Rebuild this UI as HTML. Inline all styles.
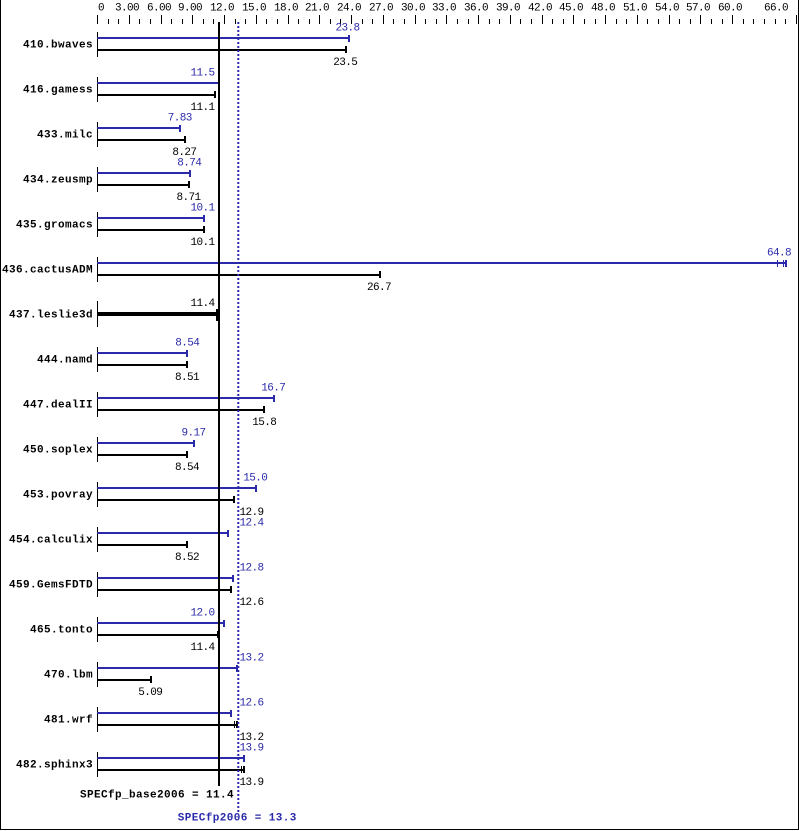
<!DOCTYPE html>
<html><head><meta charset="utf-8"><style>
html,body{margin:0;padding:0;background:#fff;}
svg{display:block;}
.v{font-family:"Liberation Mono","DejaVu Sans Mono",monospace;font-size:11px;letter-spacing:-0.6px;}
.n{font-family:"Liberation Mono","DejaVu Sans Mono",monospace;font-size:11px;font-weight:bold;letter-spacing:0.4px;}
.b{fill:#2a2aaa;}
.k{fill:#000;}
</style></head><body>
<svg width="799" height="831" viewBox="0 0 799 831" xmlns="http://www.w3.org/2000/svg">
<rect x="0" y="0" width="799" height="831" fill="#fff"/>
<!-- borders -->
<g shape-rendering="crispEdges" fill="#000">
<rect x="0" y="0" width="1" height="830"/>
<rect x="798" y="0" width="1" height="830"/>
<rect x="0" y="829" width="799" height="1"/>
</g>
<!-- ticks -->
<g shape-rendering="crispEdges" fill="#000">
<rect x="97" y="15" width="1" height="9"/><rect x="108" y="19" width="1" height="5"/><rect x="118" y="19" width="1" height="5"/>
<rect x="129" y="15" width="1" height="9"/><rect x="139" y="19" width="1" height="5"/><rect x="150" y="19" width="1" height="5"/>
<rect x="161" y="15" width="1" height="9"/><rect x="171" y="19" width="1" height="5"/><rect x="182" y="19" width="1" height="5"/>
<rect x="192" y="15" width="1" height="9"/><rect x="203" y="19" width="1" height="5"/><rect x="213" y="19" width="1" height="5"/>
<rect x="224" y="15" width="1" height="9"/><rect x="235" y="19" width="1" height="5"/><rect x="245" y="19" width="1" height="5"/>
<rect x="256" y="15" width="1" height="9"/><rect x="266" y="19" width="1" height="5"/><rect x="277" y="19" width="1" height="5"/>
<rect x="288" y="15" width="1" height="9"/><rect x="298" y="19" width="1" height="5"/><rect x="309" y="19" width="1" height="5"/>
<rect x="319" y="15" width="1" height="9"/><rect x="330" y="19" width="1" height="5"/><rect x="340" y="19" width="1" height="5"/>
<rect x="351" y="15" width="1" height="9"/><rect x="362" y="19" width="1" height="5"/><rect x="372" y="19" width="1" height="5"/>
<rect x="383" y="15" width="1" height="9"/><rect x="393" y="19" width="1" height="5"/><rect x="404" y="19" width="1" height="5"/>
<rect x="415" y="15" width="1" height="9"/><rect x="425" y="19" width="1" height="5"/><rect x="436" y="19" width="1" height="5"/>
<rect x="446" y="15" width="1" height="9"/><rect x="457" y="19" width="1" height="5"/><rect x="468" y="19" width="1" height="5"/>
<rect x="478" y="15" width="1" height="9"/><rect x="489" y="19" width="1" height="5"/><rect x="499" y="19" width="1" height="5"/>
<rect x="510" y="15" width="1" height="9"/><rect x="520" y="19" width="1" height="5"/><rect x="531" y="19" width="1" height="5"/>
<rect x="542" y="15" width="1" height="9"/><rect x="552" y="19" width="1" height="5"/><rect x="563" y="19" width="1" height="5"/>
<rect x="573" y="15" width="1" height="9"/><rect x="584" y="19" width="1" height="5"/><rect x="595" y="19" width="1" height="5"/>
<rect x="605" y="15" width="1" height="9"/><rect x="616" y="19" width="1" height="5"/><rect x="626" y="19" width="1" height="5"/>
<rect x="637" y="15" width="1" height="9"/><rect x="647" y="19" width="1" height="5"/><rect x="658" y="19" width="1" height="5"/>
<rect x="669" y="15" width="1" height="9"/><rect x="679" y="19" width="1" height="5"/><rect x="690" y="19" width="1" height="5"/>
<rect x="700" y="15" width="1" height="9"/><rect x="711" y="19" width="1" height="5"/><rect x="722" y="19" width="1" height="5"/>
<rect x="732" y="15" width="1" height="9"/><rect x="743" y="19" width="1" height="5"/><rect x="753" y="19" width="1" height="5"/>
<rect x="764" y="19" width="1" height="5"/><rect x="775" y="19" width="1" height="5"/><rect x="785" y="19" width="1" height="5"/>
<rect x="796" y="15" width="1" height="9"/>
</g>
<!-- axis labels -->
<g class="v k" text-anchor="middle">
<text x="101" y="10.7">0</text>
<text x="127" y="10.7">3.00</text>
<text x="159" y="10.7">6.00</text>
<text x="190" y="10.7">9.00</text>
<text x="222" y="10.7">12.0</text>
<text x="254" y="10.7">15.0</text>
<text x="286" y="10.7">18.0</text>
<text x="317" y="10.7">21.0</text>
<text x="349" y="10.7">24.0</text>
<text x="381" y="10.7">27.0</text>
<text x="413" y="10.7">30.0</text>
<text x="444" y="10.7">33.0</text>
<text x="476" y="10.7">36.0</text>
<text x="508" y="10.7">39.0</text>
<text x="540" y="10.7">42.0</text>
<text x="571" y="10.7">45.0</text>
<text x="603" y="10.7">48.0</text>
<text x="635" y="10.7">51.0</text>
<text x="667" y="10.7">54.0</text>
<text x="698" y="10.7">57.0</text>
<text x="730" y="10.7">60.0</text>
<text x="776" y="10.7">66.0</text>
</g>

<!-- row axis segments -->
<g shape-rendering="crispEdges" fill="#000">
<rect x="97" y="32" width="1" height="25"/>
<rect x="97" y="77" width="1" height="25"/>
<rect x="97" y="122" width="1" height="25"/>
<rect x="97" y="167" width="1" height="25"/>
<rect x="97" y="212" width="1" height="25"/>
<rect x="97" y="257" width="1" height="25"/>
<rect x="97" y="301" width="1" height="26"/>
<rect x="97" y="347" width="1" height="25"/>
<rect x="97" y="392" width="1" height="25"/>
<rect x="97" y="437" width="1" height="25"/>
<rect x="97" y="482" width="1" height="25"/>
<rect x="97" y="527" width="1" height="25"/>
<rect x="97" y="572" width="1" height="25"/>
<rect x="97" y="617" width="1" height="25"/>
<rect x="97" y="662" width="1" height="25"/>
<rect x="97" y="707" width="1" height="25"/>
<rect x="97" y="752" width="1" height="25"/>
</g>

<!-- blue (peak) bars -->
<g shape-rendering="crispEdges" fill="#2a2aaa">
<rect x="97" y="37" width="252" height="2"/><rect x="348" y="35" width="2" height="7"/>
<rect x="97" y="82" width="122" height="2"/><rect x="218" y="80" width="2" height="7"/>
<rect x="97" y="127" width="83" height="2"/><rect x="179" y="125" width="2" height="7"/>
<rect x="97" y="172" width="93" height="2"/><rect x="189" y="170" width="2" height="7"/>
<rect x="97" y="217" width="107" height="2"/><rect x="203" y="215" width="2" height="7"/>
<rect x="97" y="262" width="689" height="2"/><rect x="777" y="260" width="1" height="7"/><rect x="783" y="260" width="1" height="7"/><rect x="785" y="260" width="2" height="7"/>
<rect x="97" y="352" width="90" height="2"/><rect x="186" y="350" width="2" height="7"/>
<rect x="97" y="397" width="177" height="2"/><rect x="273" y="395" width="2" height="7"/>
<rect x="97" y="442" width="97" height="2"/><rect x="193" y="440" width="2" height="7"/>
<rect x="97" y="487" width="159" height="2"/><rect x="255" y="485" width="2" height="7"/>
<rect x="97" y="532" width="131" height="2"/><rect x="227" y="530" width="2" height="7"/>
<rect x="97" y="577" width="136" height="2"/><rect x="232" y="575" width="2" height="7"/>
<rect x="97" y="622" width="127" height="2"/><rect x="223" y="620" width="2" height="7"/>
<rect x="97" y="667" width="140" height="2"/><rect x="236" y="665" width="2" height="7"/>
<rect x="97" y="712" width="133" height="2"/><rect x="230" y="710" width="2" height="7"/>
<rect x="97" y="757" width="147" height="2"/><rect x="243" y="755" width="2" height="7"/>
</g>

<!-- black (base) bars -->
<g shape-rendering="crispEdges" fill="#000">
<rect x="97" y="49" width="249" height="2"/><rect x="345" y="46" width="2" height="7"/>
<rect x="97" y="94" width="118" height="2"/><rect x="214" y="91" width="2" height="7"/>
<rect x="97" y="139" width="88" height="2"/><rect x="184" y="136" width="2" height="7"/>
<rect x="97" y="184" width="92" height="2"/><rect x="188" y="181" width="2" height="7"/>
<rect x="97" y="229" width="107" height="2"/><rect x="203" y="226" width="2" height="7"/>
<rect x="97" y="274" width="283" height="2"/><rect x="379" y="271" width="2" height="7"/>
<rect x="97" y="312" width="121" height="4"/><rect x="216" y="309" width="2" height="12"/>
<rect x="97" y="364" width="90" height="2"/><rect x="186" y="361" width="2" height="7"/>
<rect x="97" y="409" width="167" height="2"/><rect x="263" y="406" width="2" height="7"/>
<rect x="97" y="454" width="90" height="2"/><rect x="186" y="451" width="2" height="7"/>
<rect x="97" y="499" width="137" height="2"/><rect x="233" y="496" width="2" height="7"/>
<rect x="97" y="544" width="90" height="2"/><rect x="186" y="541" width="2" height="7"/>
<rect x="97" y="589" width="133" height="2"/><rect x="230" y="586" width="2" height="7"/>
<rect x="97" y="634" width="121" height="2"/><rect x="217" y="631" width="2" height="7"/>
<rect x="97" y="679" width="54" height="2"/><rect x="150" y="676" width="2" height="7"/>
<rect x="97" y="724" width="140" height="2"/><rect x="234" y="721" width="1" height="7"/><rect x="236" y="721" width="2" height="7"/>
<rect x="97" y="769" width="147" height="2"/><rect x="241" y="766" width="1" height="7"/><rect x="243" y="766" width="2" height="7"/>
</g>

<!-- reference lines -->
<rect x="218" y="22" width="2" height="764" fill="#000" shape-rendering="crispEdges"/>
<line x1="238.3" y1="22" x2="238.3" y2="814" stroke="#2a2aaa" stroke-width="2" stroke-dasharray="2,2"/>

<!-- benchmark names -->
<g class="n k" text-anchor="end">
<text x="93" y="47.3">410.bwaves</text>
<text x="93" y="92.3">416.gamess</text>
<text x="93" y="137.3">433.milc</text>
<text x="93" y="182.3">434.zeusmp</text>
<text x="93" y="227.3">435.gromacs</text>
<text x="93" y="272.3">436.cactusADM</text>
<text x="93" y="317.3">437.leslie3d</text>
<text x="93" y="362.3">444.namd</text>
<text x="93" y="407.3">447.dealII</text>
<text x="93" y="452.3">450.soplex</text>
<text x="93" y="497.3">453.povray</text>
<text x="93" y="542.3">454.calculix</text>
<text x="93" y="587.3">459.GemsFDTD</text>
<text x="93" y="632.3">465.tonto</text>
<text x="93" y="677.3">470.lbm</text>
<text x="93" y="722.3">481.wrf</text>
<text x="93" y="767.3">482.sphinx3</text>
</g>

<!-- peak values (blue) -->
<g class="v b">
<text x="347.5" y="30.7" text-anchor="middle">23.8</text>
<text x="214.5" y="75.7" text-anchor="end">11.5</text>
<text x="179.7" y="120.7" text-anchor="middle">7.83</text>
<text x="189.2" y="165.7" text-anchor="middle">8.74</text>
<text x="214.5" y="210.7" text-anchor="end">10.1</text>
<text x="791" y="255.7" text-anchor="end">64.8</text>
<text x="187.3" y="345.7" text-anchor="middle">8.54</text>
<text x="273.3" y="390.7" text-anchor="middle">16.7</text>
<text x="193.5" y="435.7" text-anchor="middle">9.17</text>
<text x="255.3" y="480.7" text-anchor="middle">15.0</text>
<text x="239.5" y="525.7">12.4</text>
<text x="239.5" y="570.7">12.8</text>
<text x="214.5" y="615.7" text-anchor="end">12.0</text>
<text x="239.5" y="660.7">13.2</text>
<text x="239.5" y="705.7">12.6</text>
<text x="239.5" y="750.5">13.9</text>
</g>

<!-- base values (black) -->
<g class="v k">
<text x="345.3" y="65" text-anchor="middle">23.5</text>
<text x="214.5" y="110" text-anchor="end">11.1</text>
<text x="184.4" y="155" text-anchor="middle">8.27</text>
<text x="188.5" y="200" text-anchor="middle">8.71</text>
<text x="214.5" y="245" text-anchor="end">10.1</text>
<text x="379" y="290" text-anchor="middle">26.7</text>
<text x="214.5" y="306" text-anchor="end">11.4</text>
<text x="187" y="380" text-anchor="middle">8.51</text>
<text x="264.3" y="425" text-anchor="middle">15.8</text>
<text x="187" y="470" text-anchor="middle">8.54</text>
<text x="239.5" y="515">12.9</text>
<text x="187" y="560" text-anchor="middle">8.52</text>
<text x="239.5" y="605">12.6</text>
<text x="214.5" y="650" text-anchor="end">11.4</text>
<text x="150.3" y="695" text-anchor="middle">5.09</text>
<text x="239.5" y="740">13.2</text>
<text x="239.5" y="785">13.9</text>
</g>

<!-- summary -->
<text class="n k" x="80" y="797.5">SPECfp_base2006 = 11.4</text>
<text class="n b" x="177.7" y="820.5">SPECfp2006 = 13.3</text>
</svg>
</body></html>
